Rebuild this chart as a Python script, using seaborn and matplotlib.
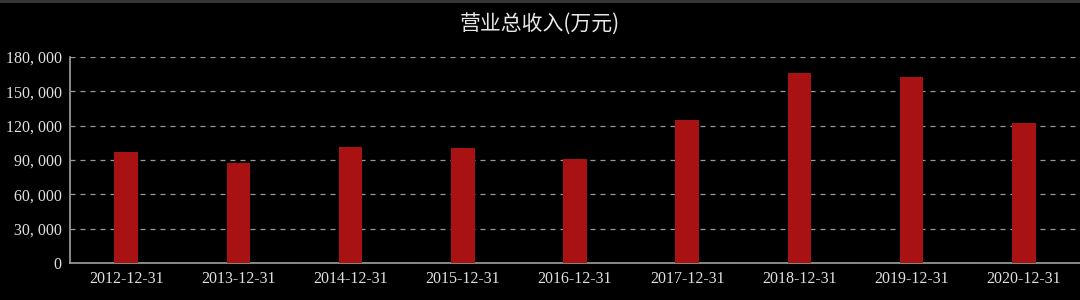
import matplotlib
matplotlib.use("Agg")
import matplotlib.pyplot as plt
import seaborn as sns
import pandas as pd
from matplotlib.ticker import FuncFormatter, FixedLocator

categories = ["2012-12-31", "2013-12-31", "2014-12-31", "2015-12-31", "2016-12-31",
              "2017-12-31", "2018-12-31", "2019-12-31", "2020-12-31"]
revenue = [96800, 87100, 101100, 100200, 90900, 124700, 165800, 162800, 122600]
y_ticks = [0, 30000, 60000, 90000, 120000, 150000, 180000]
title = "营业总收入(万元)"

sns.set_theme(style="dark")
plt.rcParams['font.family'] = ['Liberation Serif', 'Noto Sans CJK SC', 'DejaVu Sans']

df = pd.DataFrame({"date": categories, "value": revenue})

fig = plt.figure(figsize=(10.8, 3.0), dpi=100, facecolor="black")
ax = fig.add_axes([0.0648, 0.1233, 0.9352, 0.6867])
ax.set_facecolor("black")

sns.barplot(data=df, x="date", y="value", color="#a81212", width=0.21,
            saturation=1, linewidth=0, edgecolor="none", ax=ax, zorder=3)

ax.set_ylim(0, 180000)
ax.yaxis.set_major_locator(FixedLocator(y_ticks))
ax.yaxis.set_major_formatter(FuncFormatter(lambda v, p: f"{int(v):,}".replace(",", ", ")))
ax.grid(axis="y", color="#9a9a9a", linestyle=(0, (4, 4)), linewidth=0.9, zorder=0)
ax.grid(axis="x", visible=False)
ax.set_xlim(-0.5, 8.5)

for s in ["top", "right"]:
    ax.spines[s].set_visible(False)
for s in ["left", "bottom"]:
    ax.spines[s].set_visible(True)
    ax.spines[s].set_color("#a0a0a0")
    ax.spines[s].set_linewidth(1.2)

ax.tick_params(axis="both", colors="#e0e0e0", labelsize=11.5, length=0, pad=6)
ax.set_xlabel("")
ax.set_ylabel("")

fig.text(0.5, 0.922, title, ha="center", va="center", color="#e8e8e8",
         fontsize=15, family=['Noto Sans CJK SC', 'DejaVu Sans'])

# thin grey top border
fig.add_artist(plt.Line2D([0, 1], [0.997, 0.997], color="#3a3a3a", linewidth=2,
                          transform=fig.transFigure))

fig.savefig("out.png", dpi=100, facecolor="black")
